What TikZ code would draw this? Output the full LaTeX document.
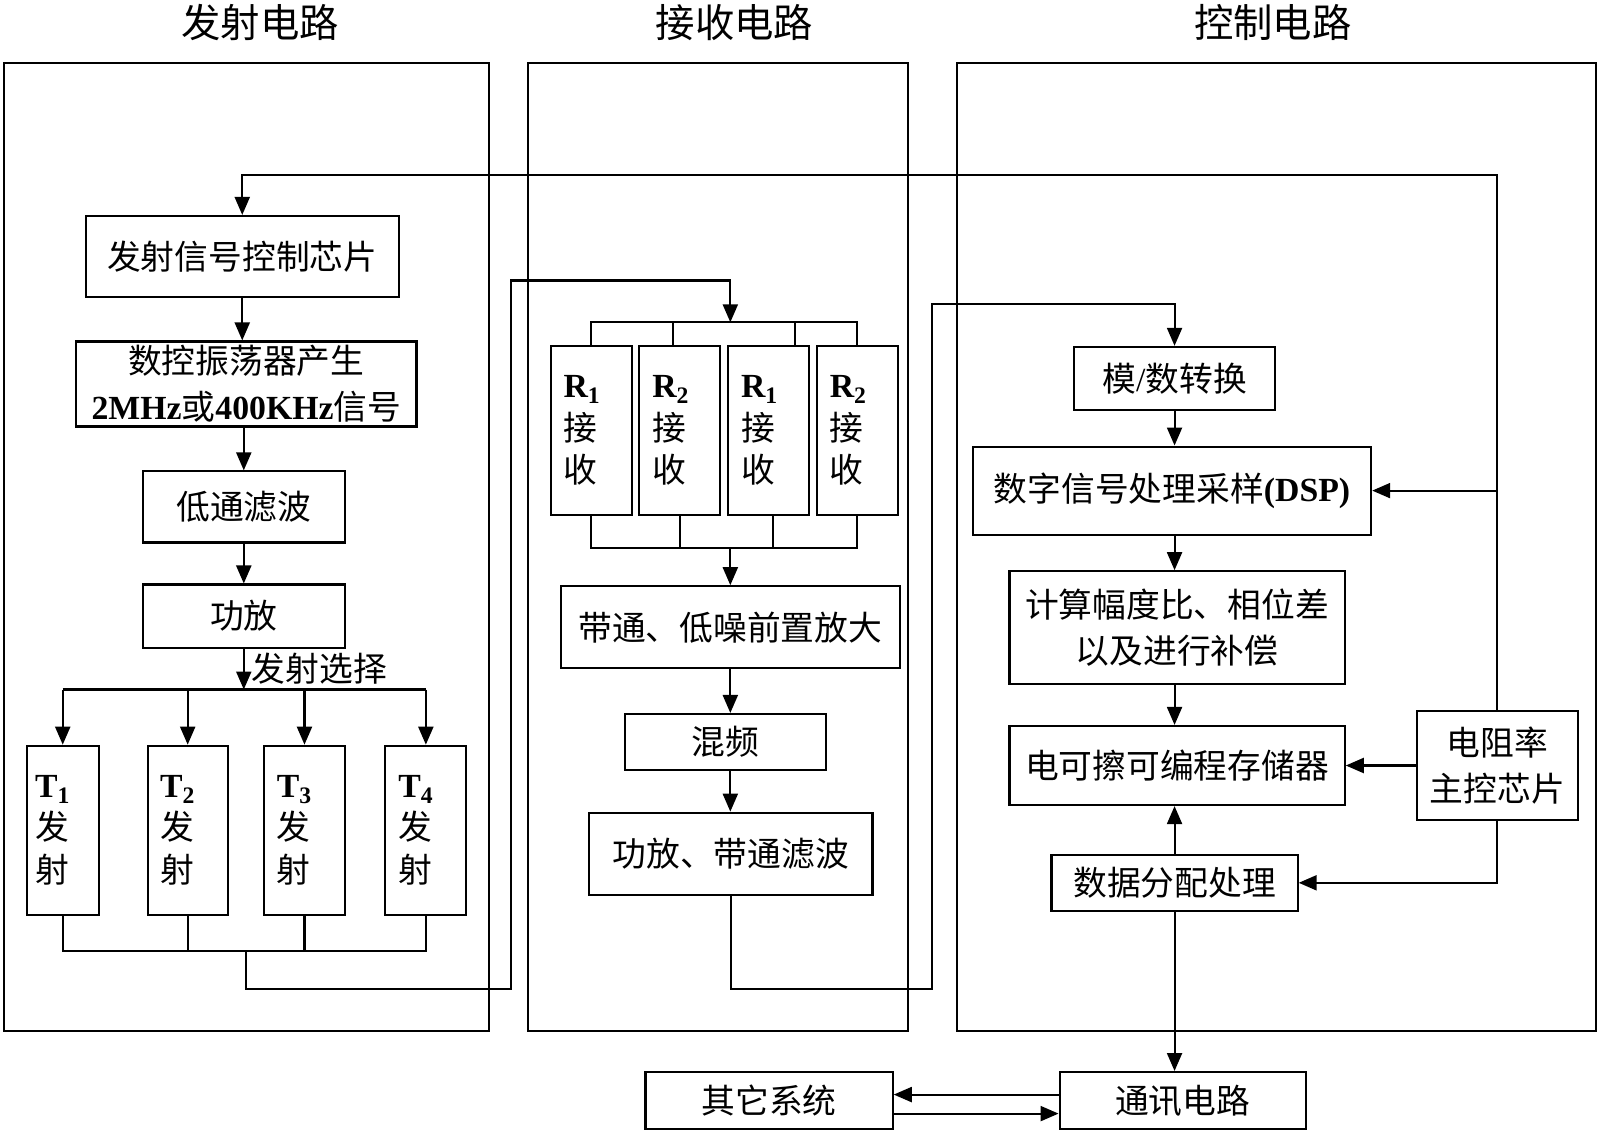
\documentclass[tikz,border=0pt]{standalone}
\usepackage{fontspec}
\setmainfont{Noto Sans CJK SC}
\newfontfamily\tnr{Liberation Serif}
\usetikzlibrary{arrows.meta}
\begin{document}
\begin{tikzpicture}[x=0.0102cm,y=-0.0102cm,line width=0.6pt,
		box/.style={draw,inner sep=0pt,align=center,font=\fontsize{9.6}{13}\selectfont},
		tall/.style={box,minimum height=1.69cm,text width=0.55cm,align=left,font=\fontsize{9.6}{12}\selectfont},
		title/.style={font=\fontsize{11.2}{13}\selectfont},
		arr/.style={-{Triangle[length=1.8mm,width=1.5mm]}}]
				\useasboundingbox (0,0) rectangle (1568.6,1114.7);
				\draw (4,62) rectangle (479,1011);
				\draw (518,62) rectangle (890,1011);
				\draw (938,62) rectangle (1565,1011);
				\node[title] (ttx) at (255,22) {发射电路};
				\node[title] (trx) at (720,22) {接收电路};
				\node[title] (tctl) at (1248,22) {控制电路};
				\node[box,minimum width=3.13cm,minimum height=0.81cm] (txc) at (237.5,251.5) {发射信号控制芯片};
				\node[box,minimum width=3.40cm,minimum height=0.85cm] (nco) at (241.5,376.5) {数控振荡器产生\\{\tnr\bfseries 2MHz}或{\tnr\bfseries 400KHz}信号};
				\node[box,minimum width=2.02cm,minimum height=0.71cm] (lpf) at (239,497) {低通滤波};
				\node[box,minimum width=2.02cm,minimum height=0.63cm] (pa) at (239,604) {功放};
				\node[tall,minimum width=0.72cm] (T1) at (61.5,814) {{\tnr\bfseries T\textsubscript{1}}\\发\\射};
				\node[tall,minimum width=0.80cm] (T2) at (184,814) {{\tnr\bfseries T\textsubscript{2}}\\发\\射};
				\node[tall,minimum width=0.81cm] (T3) at (298.5,814) {{\tnr\bfseries T\textsubscript{3}}\\发\\射};
				\node[tall,minimum width=0.81cm] (T4) at (417.5,814) {{\tnr\bfseries T\textsubscript{4}}\\发\\射};
				\node[tall,minimum width=0.81cm] (R1a) at (579.5,422) {{\tnr\bfseries R\textsubscript{1}}\\接\\收};
				\node[tall,minimum width=0.81cm] (R2a) at (666.5,422) {{\tnr\bfseries R\textsubscript{2}}\\接\\收};
				\node[tall,minimum width=0.81cm] (R1b) at (753.5,422) {{\tnr\bfseries R\textsubscript{1}}\\接\\收};
				\node[tall,minimum width=0.81cm] (R2b) at (840.5,422) {{\tnr\bfseries R\textsubscript{2}}\\接\\收};
				\node[box,minimum width=3.39cm,minimum height=0.82cm] (bpf) at (716,615) {带通、低噪前置放大};
				\node[box,minimum width=2.01cm,minimum height=0.56cm] (mix) at (711.5,727.5) {混频};
				\node[box,minimum width=2.83cm,minimum height=0.82cm] (pabp) at (716.5,837) {功放、带通滤波};
				\node[box,minimum width=2.01cm,minimum height=0.63cm] (ad) at (1151.5,371) {模{\tnr /}数转换};
				\node[box,minimum width=3.98cm,minimum height=0.88cm] (dsp) at (1149,481) {数字信号处理采样{\tnr\bfseries (DSP)}};
				\node[box,minimum width=3.35cm,minimum height=1.13cm] (calc) at (1154,615.5) {计算幅度比、相位差\\以及进行补偿};
				\node[box,minimum width=3.35cm,minimum height=0.79cm] (eep) at (1154,750.5) {电可擦可编程存储器};
				\node[box,minimum width=2.46cm,minimum height=0.56cm] (dist) at (1151.5,865.5) {数据分配处理};
				\node[box,minimum width=1.61cm,minimum height=1.09cm] (ctl) at (1468,750.5) {电阻率\\主控芯片};
				\node[box,minimum width=2.46cm,minimum height=0.57cm] (comm) at (1159.5,1079) {通讯电路};
				\node[box,minimum width=2.47cm,minimum height=0.57cm] (other) at (754,1079) {其它系统};
				\coordinate (sel) at (239,676);
				\coordinate (tbus) at (241,932);
				\coordinate (rtop) at (716,316);
				\coordinate (rbot) at (716,537);
				\draw[arr] (txc.south) -- (txc.south |- nco.north);
				\draw[arr] (lpf.north |- nco.south) -- (lpf.north);
				\draw[arr] (lpf.south) -- (pa.north);
				\draw[arr] (pa.south) -- (sel);
				\node[box,draw=none,anchor=west] (selt) at (246,656) {发射选择};
				\draw (T1.north |- sel) -- (T4.north |- sel);
				\foreach \t in {T1,T2,T3,T4}
					\draw[arr] (\t.north |- sel) -- (\t.north);
				\draw (T1.south) |- (tbus) -| (T4.south);
				\foreach \t in {T2,T3}
					\draw (\t.south) -- (\t.south |- tbus);
				\draw[arr] (tbus) |- (501,970) -- (501,275) -| (rtop);
				\draw (R1a.north) |- (rtop) -| (R2b.north);
				\draw ([xshift=-0.07cm]R2a.north) -- ([xshift=-0.07cm]R2a.north |- rtop);
				\draw ([xshift=0.26cm]R1b.north) -- ([xshift=0.26cm]R1b.north |- rtop);
				\draw (R1a.south) |- (rbot) -| (R2b.south);
				\draw (R2a.south) -- (R2a.south |- rbot);
				\draw ([xshift=0.04cm]R1b.south) -- ([xshift=0.04cm]R1b.south |- rbot);
				\draw[arr] (rbot) -- (rbot |- bpf.north);
				\draw[arr] (bpf.south) -- (bpf.south |- mix.north);
				\draw[arr] (bpf.south |- mix.south) -- (bpf.south |- pabp.north);
				\draw[arr] (pabp.south) |- (914,970) -- (914,298) -| (ad.north);
				\draw[arr] (ad.south) -- (ad.south |- dsp.north);
				\draw[arr] (ad.south |- dsp.south) -- (ad.south |- calc.north);
				\draw[arr] (ad.south |- calc.south) -- (ad.south |- eep.north);
				\draw[arr] (dist.north) -- (dist.north |- eep.south);
				\draw[arr] (dist.south) -- (dist.south |- comm.north);
				\draw[arr] (ctl.north) -- (1468,172) -| (txc.north);
				\draw[arr] (ctl.north |- dsp.east) -- (dsp.east);
				\draw[arr] (ctl.west) -- (eep.east);
				\draw[arr] (ctl.south) |- (dist.east);
				\draw[arr] ([yshift=0.06cm]comm.west) -- ([yshift=0.06cm]comm.west -| other.east);
				\draw[arr] ([yshift=-0.13cm]other.east) -- ([yshift=-0.13cm]other.east -| comm.west);
			\end{tikzpicture}
\end{document}
